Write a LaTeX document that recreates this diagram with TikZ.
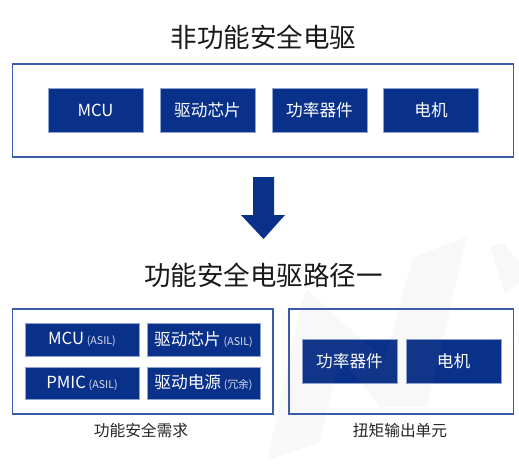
\documentclass[tikz,border=0pt]{standalone}
\usepackage{fontspec}
\setmainfont{Noto Sans CJK SC}
\definecolor{navy}{HTML}{0A318A}
\definecolor{frameblue}{HTML}{3A5BA8}
\definecolor{edgeblue}{HTML}{8FA3D0}
\definecolor{wm}{HTML}{888888}
\tikzset{
  frame/.style={draw=frameblue,line width=1.1pt,anchor=north west,inner sep=0pt,outer sep=0pt},
  block/.style={fill=navy,draw=edgeblue,line width=0.3pt,text=white,anchor=north west,inner sep=0pt,outer sep=0pt,align=center,font=\fontsize{12.5pt}{15pt}\selectfont},
  title/.style={text=black!90,font=\fontsize{19.9pt}{24pt}\selectfont,inner sep=0pt},
  caption/.style={text=black!85,font=\fontsize{11.8pt}{14pt}\selectfont,inner sep=0pt},
  wmshape/.style={fill=wm,opacity=0.05}
}
\newcommand{\sm}[1]{{\fontsize{8pt}{9pt}\selectfont\color{white!85!navy}#1}}
\newcommand{\low}[1]{\raisebox{-0.7pt}{#1}}
\begin{document}
\begin{tikzpicture}[x=0.75pt,y=-0.75pt]
\useasboundingbox (0,0) rectangle (519,472);
\fill[white] (0,0) rectangle (519,472);
\node[title] (t1) at (263.5,37) {非功能安全电驱};
\node[frame,minimum width=501*0.75pt,minimum height=93*0.75pt] (f1) at (12.5,64) {};
\node[block,minimum width=95*0.75pt,minimum height=44*0.75pt] (a1) at (48,88.5) {MCU};
\node[block,minimum width=95*0.75pt,minimum height=44*0.75pt] (a2) at (160,88.5) {驱动芯片};
\node[block,minimum width=95*0.75pt,minimum height=44*0.75pt] (a3) at (272,88.5) {功率器件};
\node[block,minimum width=95*0.75pt,minimum height=44*0.75pt] (a4) at (383.5,88.5) {电机};
\fill[navy] (253,177) -- (274,177) -- (274,215) -- (285,215) -- (263.5,239) -- (241,215) -- (253,215) -- cycle;
\node[title] (t2) at (263.5,275.5) {功能安全电驱路径一};
\node[frame,minimum width=260.5*0.75pt,minimum height=105*0.75pt] (f2) at (12.5,309) {};
\node[frame,minimum width=224.5*0.75pt,minimum height=105*0.75pt] (f3) at (289,309) {};
\node[block,minimum width=114*0.75pt,minimum height=32.5*0.75pt] (b1) at (25,323.5) {\low{MCU\,\sm{(ASIL)}}};
\node[block,minimum width=113.5*0.75pt,minimum height=32.5*0.75pt] (b2) at (146.7,323.5) {\low{驱动芯片\,\sm{(ASIL)}}};
\node[block,minimum width=114*0.75pt,minimum height=32.5*0.75pt] (b3) at (25,366.7) {\low{PMIC\,\sm{(ASIL)}}};
\node[block,minimum width=113.5*0.75pt,minimum height=32.5*0.75pt] (b4) at (146.7,366.7) {\low{驱动电源\,\sm{(冗余)}}};
\node[block,minimum width=95*0.75pt,minimum height=44*0.75pt] (c1) at (302,339.5) {功率器件};
\node[block,minimum width=95*0.75pt,minimum height=44*0.75pt] (c2) at (406,339.5) {电机};
\node[caption] (l1) at (141,430) {功能安全需求};
\node[caption] (l2) at (400,430) {扭矩输出单元};
\fill[wmshape] (267,460) -- (302,301) -- (307,290) -- (385,360) -- (413,257) -- (467,237) -- (427,407) -- (380,407) -- (340,355) -- (320,442) -- cycle;
\fill[wmshape] (490,247) -- (503,243) -- (519,262) -- (519,283) -- (505,293) -- cycle;
\fill[wmshape] (516,330) -- (519,333) -- (519,346) -- cycle;
\end{tikzpicture}
\end{document}
